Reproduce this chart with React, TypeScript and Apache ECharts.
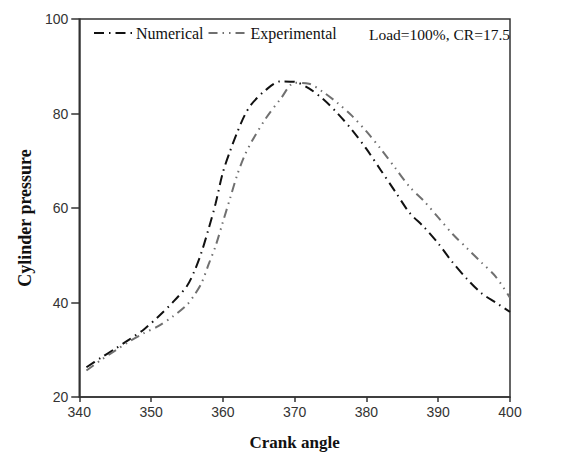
import React, { useEffect, useRef } from "react";
import * as echarts from "echarts";

const numAngles = [341, 343, 345, 347, 349, 351, 353, 355, 356, 357, 358, 359, 360, 361, 362, 363, 364, 366, 368, 370, 372, 374, 376, 378, 380, 382, 384, 386, 388, 390, 392, 394, 396, 398, 400];
const numValues = [26.3, 28.3, 30.2, 32.2, 34.3, 37, 40, 43.5, 46.5, 50.5, 55.5, 61, 67.5, 72, 76, 79.5, 82, 85, 86.8, 86.7, 85.3, 83, 80, 76.5, 72.5, 68, 63.5, 59, 56, 52.5, 48.5, 45, 42, 40, 38];

const expAngles = [341, 343, 345, 347, 349, 351, 353, 355, 356, 357, 358, 359, 360, 361, 362, 363, 364, 366, 368, 370, 372, 374, 376, 378, 380, 382, 384, 386, 388, 390, 392, 394, 396, 398, 400];
const expValues = [25.6, 27.8, 29.8, 31.8, 33.5, 35, 37, 39.5, 41.5, 44, 48, 52, 57, 62, 67, 71, 74, 79, 83, 86.5, 86.3, 84.5, 82.2, 79.5, 76.2, 72.5, 68.5, 64.5, 61.5, 58, 54.5, 51.5, 48.5, 45.5, 41];

const xTicks = { min: 340, max: 400, interval: 10 };
const yTicks = { min: 20, max: 100, interval: 20 };

export default function App() {
  const ref = useRef<HTMLDivElement>(null);
  useEffect(() => {
    const chart = echarts.init(ref.current!, null, { renderer: "svg" });
    const serif = "Liberation Serif";
    const sans = "Liberation Sans";
    chart.setOption({
      animation: false,
      backgroundColor: "#ffffff",
      title: {
        text: "Load=100%, CR=17.5",
        right: 44,
        top: 18,
        padding: 0,
        textStyle: { fontFamily: serif, fontSize: 15.5, fontWeight: "normal", color: "#111" },
      },
      legend: {
        left: 85,
        top: 17,
        padding: 0,
        itemWidth: 40,
        itemHeight: 12,
        itemGap: 4,
        itemStyle: { opacity: 0 },
        textStyle: { fontFamily: serif, fontSize: 16, color: "#111", padding: [0, 0, 0, -3] },
        data: ["Numerical", "Experimental"],
      },
      grid: { left: 56, right: 44, top: 11, bottom: 49, show: true, borderColor: "#333", borderWidth: 1.5, containLabel: false },
      xAxis: {
        type: "value",
        min: xTicks.min,
        max: xTicks.max,
        interval: xTicks.interval,
        name: "Crank angle",
        nameLocation: "middle",
        nameGap: 37,
        nameTextStyle: { fontFamily: serif, fontSize: 17, fontWeight: "bold", color: "#111" },
        axisLine: { lineStyle: { color: "#333", width: 1.5 } },
        axisTick: { show: true, length: 5, lineStyle: { color: "#333", width: 1.5 } },
        axisLabel: { fontFamily: sans, fontSize: 14, color: "#333", margin: 8 },
        splitLine: { show: false },
      },
      yAxis: {
        type: "value",
        min: yTicks.min,
        max: yTicks.max,
        interval: yTicks.interval,
        name: "Cylinder pressure",
        nameLocation: "middle",
        nameGap: 34,
        nameRotate: 90,
        nameTextStyle: { fontFamily: serif, fontSize: 18, fontWeight: "bold", color: "#111", padding: [0, 20, 0, 0] },
        axisLine: { lineStyle: { color: "#333", width: 1.5 } },
        axisTick: { show: true, length: 8, lineStyle: { color: "#333", width: 1.5 } },
        axisLabel: { fontFamily: sans, fontSize: 14, color: "#333", margin: 11 },
        splitLine: { show: false },
      },
      series: [
        {
          name: "Numerical",
          type: "line",
          data: numAngles.map((a, i) => [a, numValues[i]]),
          smooth: 0.3,
          symbol: "none",
          lineStyle: { color: "#111", width: 2, type: [10, 5, 1.5, 5] },
          itemStyle: { color: "#111" },
        },
        {
          name: "Experimental",
          type: "line",
          data: expAngles.map((a, i) => [a, expValues[i]]),
          smooth: 0.3,
          symbol: "none",
          lineStyle: { color: "#707070", width: 2, type: [9, 5, 1.5, 5, 1.5, 5] },
          itemStyle: { color: "#707070" },
        },
      ],
    });
    return () => chart.dispose();
  }, []);
  return <div ref={ref} style={{ width: 546, height: 448 }} />;
}
